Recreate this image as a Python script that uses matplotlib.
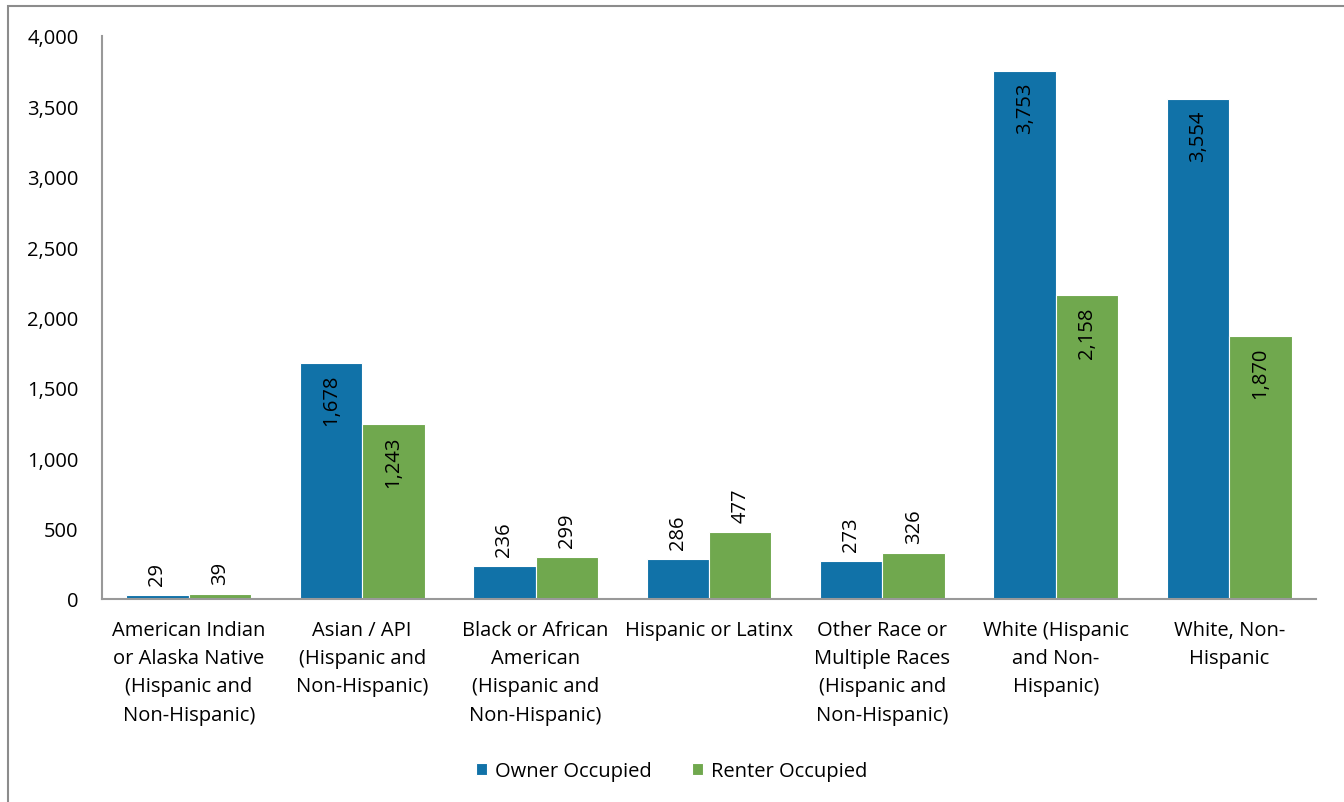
import matplotlib.pyplot as plt
import numpy as np
from matplotlib.patches import Rectangle

plt.rcParams['font.family'] = ['Open Sans', 'DejaVu Sans']

categories = ['American Indian\nor Alaska Native\n(Hispanic and\nNon-Hispanic)',
              'Asian / API\n(Hispanic and\nNon-Hispanic)',
              'Black or African\nAmerican\n(Hispanic and\nNon-Hispanic)',
              'Hispanic or Latinx',
              'Other Race or\nMultiple Races\n(Hispanic and\nNon-Hispanic)',
              'White (Hispanic\nand Non-\nHispanic)',
              'White, Non-\nHispanic']
owner = [29, 1678, 236, 286, 273, 3753, 3554]
renter = [39, 1243, 299, 477, 326, 2158, 1870]

blue = '#1172a8'
green = '#70a84e'
fs = 14.5

fig = plt.figure(figsize=(13.44, 8.03), dpi=100)
ax = fig.add_axes([102/1344, 1 - 600/803, (1316-102)/1344, (600-37)/803])

x = np.arange(len(categories))
w = 0.36
b1 = ax.bar(x - w/2, owner, w, color=blue, edgecolor='white', linewidth=0.8, label='Owner Occupied')
b2 = ax.bar(x + w/2, renter, w, color=green, edgecolor='white', linewidth=0.8, label='Renter Occupied')

for bars in (b1, b2):
    for r in bars:
        v = r.get_height()
        cx = r.get_x() + r.get_width()/2
        if v > 1000:
            ax.annotate(f'{v:,.0f}', (cx, v), xytext=(0, -8), textcoords='offset points',
                        rotation=90, ha='center', va='top', fontsize=fs)
        else:
            ax.annotate(f'{v:,.0f}', (cx, v), xytext=(0, 7), textcoords='offset points',
                        rotation=90, ha='center', va='bottom', fontsize=fs)

ax.set_xlim(-0.5, len(categories) - 0.5)
ax.set_ylim(0, 4000)
ax.set_yticks(np.arange(0, 4001, 500))
ax.yaxis.set_major_formatter(plt.FuncFormatter(lambda v, p: f'{v:,.0f}'))
ax.set_xticks(x)
ax.set_xticklabels(categories, fontsize=fs, linespacing=1.55)
ax.tick_params(axis='both', length=0, labelsize=fs)
ax.tick_params(axis='y', pad=17)
ax.tick_params(axis='x', pad=15)
for s in ['top', 'right']:
    ax.spines[s].set_visible(False)
for s in ['left', 'bottom']:
    ax.spines[s].set_color('#999999')
    ax.spines[s].set_linewidth(1.5)

fig.legend(loc='center', bbox_to_anchor=(0.5, 1 - 772/803), ncol=2, frameon=False,
           fontsize=fs, handlelength=0.55, handleheight=0.55, columnspacing=2.0, handletextpad=0.4)

# outer chart frame
fig.patches.append(Rectangle((8/1344, -0.05), 1.2, 1 - 7/803 + 0.05, transform=fig.transFigure,
                             fill=False, edgecolor='#8c8c8c', linewidth=1.5))

fig.savefig('out.png', dpi=100)
